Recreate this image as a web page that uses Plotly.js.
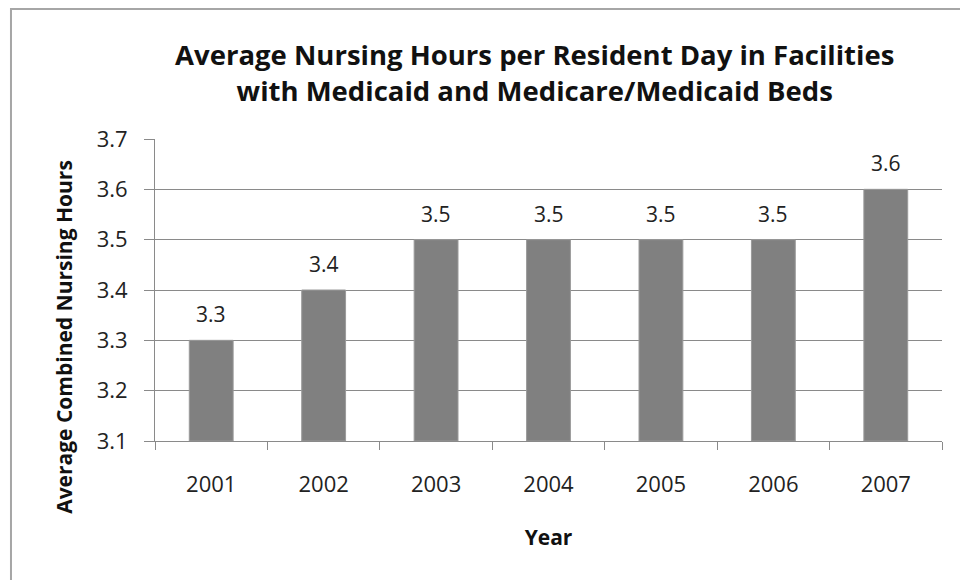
<!DOCTYPE html>
<html>
<head>
<meta charset="utf-8">
<script src="https://cdn.plot.ly/plotly-3.0.1.min.js"></script>
<style>
  body { margin: 0; background: #fff; }
  #chart { width: 960px; height: 580px; }
</style>
</head>
<body>
<div id="chart"></div>
<script>
// Data
var years = ["2001", "2002", "2003", "2004", "2005", "2006", "2007"];
var hours = [3.3, 3.4, 3.5, 3.5, 3.5, 3.5, 3.6];
var yTicks = [3.1, 3.2, 3.3, 3.4, 3.5, 3.6, 3.7];

var FONT = "Open Sans, Liberation Sans, sans-serif";
var GRID = "#8a8a8a";
var BASE = 3.1;

var bars = {
  type: "bar",
  x: years,
  // bars start at the axis floor, so the drawn length is value - floor
  y: hours.map(function(v) { return v - BASE; }),
  base: BASE,
  marker: { color: "#808080", line: { color: "#9a9a9a", width: 1 } },
  hoverinfo: "x+y"
};

// value labels above each bar (category index as x, so autorange is not pulled)
var labels = [];
for (var i = 0; i < years.length; i++) {
  labels.push({
    x: i, y: hours[i], xref: "x", yref: "y",
    text: hours[i].toFixed(1), showarrow: false,
    yanchor: "bottom", yshift: 10,
    font: { family: FONT, size: 21, color: "#222" }
  });
}

// y axis title, placed by hand like the original (a bit below centre)
labels.push({
  x: -0.1156, y: 0.345, xref: "paper", yref: "paper",
  text: "<b>Average Combined Nursing Hours</b>", showarrow: false,
  textangle: -90, xanchor: "center", yanchor: "middle",
  font: { family: FONT, size: 21, color: "#111" }
});

var layout = {
  width: 960,
  height: 580,
  margin: { l: 155, r: 18, t: 139, b: 139 },
  paper_bgcolor: "#fff",
  plot_bgcolor: "#fff",
  showlegend: false,
  bargap: 0.61,
  title: {
    text: "<b>Average Nursing Hours per Resident Day in Facilities<br>with Medicaid and Medicare/Medicaid Beds</b>",
    x: 0.557, xref: "container", xanchor: "center",
    y: 1 - 65 / 580, yref: "container", yanchor: "top",
    font: { family: FONT, size: 27.5, color: "#111" }
  },
  xaxis: {
    type: "category",
    range: [-0.5, years.length - 0.5],
    tickson: "boundaries",
    ticks: "outside", ticklen: 8, tickcolor: GRID, tickwidth: 1,
    showline: true, linecolor: GRID, linewidth: 1,
    showgrid: false,
    ticklabelstandoff: 24,
    tickfont: { family: FONT, size: 22, color: "#222" },
    title: { text: "<b>Year</b>", standoff: 32, font: { family: FONT, size: 21, color: "#111" } }
  },
  yaxis: {
    range: [BASE, 3.7],
    tickvals: yTicks,
    ticktext: yTicks.map(function(v) { return v.toFixed(1); }),
    ticks: "outside", ticklen: 10, tickcolor: GRID, tickwidth: 1,
    showline: true, linecolor: GRID, linewidth: 1,
    showgrid: true, gridcolor: GRID, gridwidth: 1,
    zeroline: false,
    ticklabelstandoff: 12,
    tickfont: { family: FONT, size: 22, color: "#222" }
  },
  annotations: labels,
  shapes: [{
    // chart frame, only its top and left edges fall inside the picture
    type: "rect", xref: "paper", yref: "paper",
    x0: -0.183, x1: 1.3, y0: -1, y1: 1.4305,
    line: { color: "#a6a6a6", width: 2 }
  }]
};

Plotly.newPlot("chart", [bars], layout, { displayModeBar: false });
</script>
</body>
</html>
